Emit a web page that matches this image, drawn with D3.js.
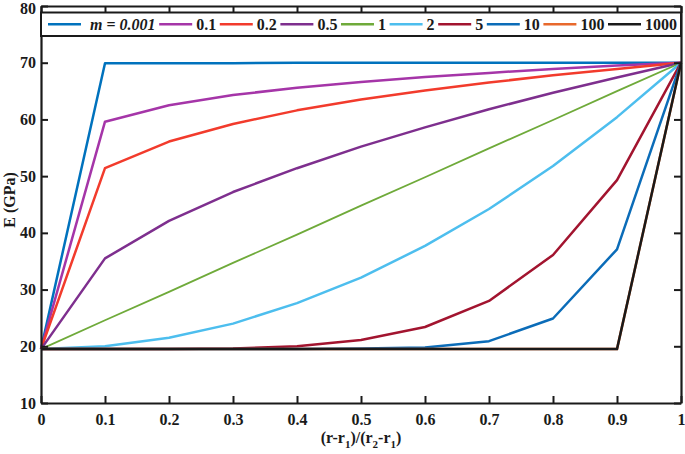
<!DOCTYPE html>
<html>
<head>
<meta charset="utf-8">
<script src="https://cdn.jsdelivr.net/npm/d3@7"></script>
<style>
  body { margin: 0; background: #fff; }
  svg { display: block; }
  text { font-family: "Liberation Serif", "Times New Roman", serif; font-weight: bold; fill: #1a1a1a; }
</style>
</head>
<body>
<svg></svg>
<script>
// x positions (normalised radius)
const xValues = [0, 0.1, 0.2, 0.3, 0.4, 0.5, 0.6, 0.7, 0.8, 0.9, 1];

// E (GPa), one array per m
const E_m0001 = [19.5, 69.9, 69.9, 69.9, 70.0, 70.0, 70.0, 70.0, 70.0, 70.0, 70.0];
const E_m01   = [19.5, 59.6, 62.5, 64.3, 65.6, 66.6, 67.5, 68.2, 68.9, 69.5, 70.0];
const E_m02   = [19.5, 51.4, 56.1, 59.2, 61.6, 63.5, 65.1, 66.5, 67.8, 68.9, 70.0];
const E_m05   = [19.5, 35.5, 42.1, 47.2, 51.4, 55.2, 58.6, 61.8, 64.7, 67.4, 70.0];
const E_m1    = [19.5, 24.6, 29.6, 34.7, 39.7, 44.8, 49.8, 54.9, 59.9, 65.0, 70.0];
const E_m2    = [19.5, 20.0, 21.5, 24.0, 27.6, 32.1, 37.7, 44.2, 51.8, 60.4, 70.0];
const E_m5    = [19.5, 19.5, 19.5, 19.6, 20.0, 21.1, 23.4, 28.0, 36.1, 49.3, 70.0];
const E_m10   = [19.5, 19.5, 19.5, 19.5, 19.5, 19.6, 19.8, 20.9, 24.9, 37.1, 70.0];
const E_m100  = [19.5, 19.5, 19.5, 19.5, 19.5, 19.5, 19.5, 19.5, 19.5, 19.5, 70.0];
const E_m1000 = [19.5, 19.5, 19.5, 19.5, 19.5, 19.5, 19.5, 19.5, 19.5, 19.5, 70.0];

const seriesLabels = ['0.001', '0.1', '0.2', '0.5', '1', '2', '5', '10', '100', '1000'];
const seriesValues = [E_m0001, E_m01, E_m02, E_m05, E_m1, E_m2, E_m5, E_m10, E_m100, E_m1000];
const seriesColors = ['#0072BD', '#A535A8', '#F23B2C', '#7E2F8E', '#6FAA3A',
                      '#4DBEEE', '#A2142F', '#0B6CB8', '#E8692C', '#1a1a1a'];

const xTicks = [0, 0.1, 0.2, 0.3, 0.4, 0.5, 0.6, 0.7, 0.8, 0.9, 1];
const yTicks = [10, 20, 30, 40, 50, 60, 70, 80];

const width = 685, height = 454;
const margin = {top: 6, right: 4, bottom: 51, left: 41};

const svg = d3.select('svg')
  .attr('width', width)
  .attr('height', height);

const x = d3.scaleLinear().domain([0, 1]).range([margin.left, width - margin.right]);
const y = d3.scaleLinear().domain([10, 80]).range([height - margin.bottom, margin.top]);

const axisColor = '#1a1a1a';
const tickLen = 7;

// series lines
const line = d3.line()
  .x((d, i) => x(xValues[i]))
  .y(d => y(d));

const plot = svg.append('g');
seriesValues.forEach((vals, i) => {
  plot.append('path')
    .datum(vals)
    .attr('fill', 'none')
    .attr('stroke', seriesColors[i])
    .attr('stroke-width', i === 4 ? 1.8 : 2.5)
    .attr('stroke-linejoin', 'round')
    .attr('d', line);
});

// axes: bottom/left with labels, top/right mirrored ticks
const fmtX = d => d === 0 ? '0' : d === 1 ? '1' : d3.format('.1f')(d);

const gBottom = svg.append('g')
  .attr('transform', `translate(0,${height - margin.bottom})`)
  .call(d3.axisBottom(x).tickValues(xTicks).tickFormat(fmtX).tickSizeInner(-tickLen).tickSizeOuter(0).tickPadding(11));
const gTop = svg.append('g')
  .attr('transform', `translate(0,${margin.top})`)
  .call(d3.axisTop(x).tickValues(xTicks).tickFormat('').tickSizeInner(-tickLen).tickSizeOuter(0));
const gLeft = svg.append('g')
  .attr('transform', `translate(${margin.left},0)`)
  .call(d3.axisLeft(y).tickValues(yTicks).tickFormat(d3.format('d')).tickSizeInner(-tickLen).tickSizeOuter(0).tickPadding(5));
const gRight = svg.append('g')
  .attr('transform', `translate(${width - margin.right},0)`)
  .call(d3.axisRight(y).tickValues(yTicks).tickFormat('').tickSizeInner(-tickLen).tickSizeOuter(0));

[gBottom, gTop, gLeft, gRight].forEach(g => {
  g.selectAll('.domain').attr('stroke', axisColor).attr('stroke-width', 2.2);
  g.selectAll('.tick line').attr('stroke', axisColor).attr('stroke-width', 2);
  g.selectAll('.tick text')
    .attr('font-size', 16)
    .attr('font-family', '"Liberation Serif", serif')
    .attr('font-weight', 'bold')
    .attr('fill', axisColor);
});
// keep the top label inside the page
gLeft.selectAll('.tick').filter(d => d === 80).select('text').attr('dy', '0.45em');

// legend box across the top
const legY0 = 12.5, legY1 = 36;
const legStart = margin.left + 7, legEnd = width - margin.right - 4;
const legLineLen = 33;
const legend = svg.append('g');
legend.append('rect')
  .attr('x', margin.left)
  .attr('y', legY0)
  .attr('width', width - margin.right - margin.left)
  .attr('height', legY1 - legY0)
  .attr('fill', '#fff')
  .attr('stroke', axisColor)
  .attr('stroke-width', 2);

const ly = (legY0 + legY1) / 2;
const items = seriesLabels.map((lab, i) => {
  const g = legend.append('g');
  const ln = g.append('line')
    .attr('y1', ly).attr('y2', ly)
    .attr('stroke', seriesColors[i])
    .attr('stroke-width', 2.5);
  const t = g.append('text')
    .attr('y', ly + 5.5)
    .attr('font-size', 16);
  if (i === 0) {
    t.append('tspan').attr('font-style', 'italic').text('m');
    t.append('tspan').text(' = ');
    t.append('tspan').attr('font-style', 'italic').text(lab);
  } else {
    t.text(lab);
  }
  const pad = i === 0 ? 9 : 4;
  return {ln, t, pad, w: t.node().getComputedTextLength()};
});
const used = d3.sum(items, d => legLineLen + d.pad + d.w);
const gap = (legEnd - legStart - used) / (items.length - 1);
let lx = legStart;
items.forEach(d => {
  d.ln.attr('x1', lx).attr('x2', lx + legLineLen);
  lx += legLineLen + d.pad;
  d.t.attr('x', lx);
  lx += d.w + gap;
});

// axis titles
const xt = svg.append('text')
  .attr('x', x(0.5))
  .attr('y', 443)
  .attr('text-anchor', 'middle')
  .attr('font-size', 16);
xt.append('tspan').text('(r-r');
xt.append('tspan').attr('font-size', 11).attr('dy', 5).text('1');
xt.append('tspan').attr('dy', -5).text(')/(r');
xt.append('tspan').attr('font-size', 11).attr('dy', 5).text('2');
xt.append('tspan').attr('dy', -5).text('-r');
xt.append('tspan').attr('font-size', 11).attr('dy', 5).text('1');
xt.append('tspan').attr('dy', -5).text(')');

svg.append('text')
  .attr('transform', 'translate(14.5,200) rotate(-90)')
  .attr('text-anchor', 'middle')
  .attr('font-size', 16)
  .text('E (GPa)');
</script>
</body>
</html>
